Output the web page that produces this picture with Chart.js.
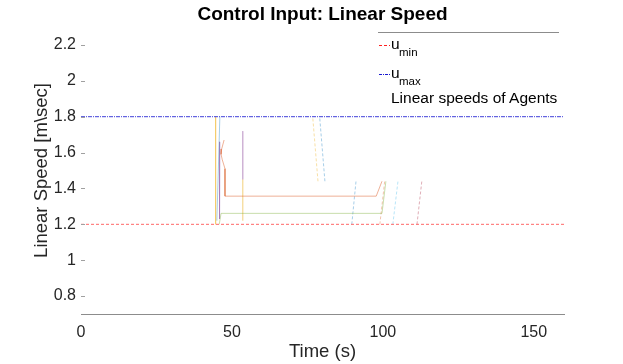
<!DOCTYPE html>
<html>
<head>
<meta charset="utf-8">
<script src="https://cdn.jsdelivr.net/npm/chart.js@4.4.1/dist/chart.umd.min.js"></script>
<style>
  body { margin: 0; background: #fff; }
  #wrap { position: relative; width: 623px; height: 364px; font-family: "Liberation Sans", Arial, sans-serif; color: #000; }
  #wrap canvas { position: absolute; left: 0; top: 0; }
  .lg { position: absolute; line-height: 1; white-space: nowrap; }
  .big { font-size: 15.5px; }
  .small { font-size: 11.5px; }
  #legendTop { position: absolute; left: 378px; top: 32px; width: 181px; height: 0; border-top: 1px solid #8c8c8c; }
</style>
</head>
<body>
<div id="wrap">
  <canvas id="chart" width="623" height="364"></canvas>
  <div id="legendTop"></div>
  <svg class="lg" style="left:379px;top:44px" width="11" height="3"><line x1="0" y1="1.5" x2="11" y2="1.5" stroke="#ff2020" stroke-width="1" stroke-dasharray="3,2"/></svg>
  <div class="lg big" style="left:391px;top:36px">u</div>
  <div class="lg small" style="left:399px;top:47px">min</div>
  <svg class="lg" style="left:379px;top:73px" width="11" height="3"><line x1="0" y1="1.5" x2="11" y2="1.5" stroke="#1a1ad0" stroke-width="1" stroke-dasharray="3,1,1,1"/></svg>
  <div class="lg big" style="left:391px;top:65px">u</div>
  <div class="lg small" style="left:399px;top:76px">max</div>
  <div class="lg big" style="left:391px;top:90px">Linear speeds of Agents</div>
</div>
<script>
// Axis ticks
const xTicks = [0, 50, 100, 150];
const yTicks = [0.8, 1, 1.2, 1.4, 1.6, 1.8, 2, 2.2];

// Speed bounds
const uMinTime = [0, 160];
const uMinValue = [1.2, 1.2];
const uMaxTime = [0, 160];
const uMaxValue = [1.8, 1.8];

// Agent speed traces (time in s, speed in m/s)
const agent1Time = [44.6, 44.6];
const agent1Speed = [1.8, 1.2];
const agent2Time = [46.0, 45.0];
const agent2Speed = [1.8, 1.22];
const agent3Time = [46.0, 45.9];
const agent3Speed = [1.66, 1.23];
const agent4Time = [47.4, 46.6, 46.4, 46.8, 47.7, 47.7, 97.8, 99.7];
const agent4Speed = [1.67, 1.62, 1.59, 1.56, 1.51, 1.357, 1.357, 1.44];
const agent5Time = [45.8, 46.4, 99.7, 101.0];
const agent5Speed = [1.2, 1.261, 1.261, 1.44];
const agent6Time = [53.6, 53.6];
const agent6Speed = [1.72, 1.45];
const agent7Time = [53.6, 53.6];
const agent7Speed = [1.45, 1.22];
const agent8Time = [76.8, 78.5];
const agent8Speed = [1.79, 1.44];
const agent9Time = [79.1, 80.8];
const agent9Speed = [1.79, 1.44];
const agent10Time = [89.7, 91.1];
const agent10Speed = [1.2, 1.44];
const agent11Time = [99.0, 100.6];
const agent11Speed = [1.2, 1.44];
const agent12Time = [103.3, 105.0];
const agent12Speed = [1.2, 1.44];
const agent13Time = [111.3, 112.9];
const agent13Speed = [1.2, 1.44];

const FONT = '"Liberation Sans", Arial, sans-serif';
const pts = (t, v) => t.map((x, i) => ({ x: x, y: v[i] }));

function agent(t, v, color, dashed) {
    return {
        data: pts(t, v),
        borderColor: color,
        borderWidth: 1,
        borderDash: dashed ? [3, 2] : [],
        pointRadius: 0,
        fill: false,
        tension: 0
    };
}

// small inward tick marks on the y axis, like the original plot
const yTickMarks = {
    id: 'yTickMarks',
    afterDraw(chart) {
        const ctx = chart.ctx;
        const y = chart.scales.y;
        const left = chart.chartArea.left;
        ctx.save();
        ctx.strokeStyle = '#a0a0a0';
        ctx.lineWidth = 1;
        yTicks.forEach(v => {
            const py = Math.round(y.getPixelForValue(v)) + 0.5;
            ctx.beginPath();
            ctx.moveTo(left, py);
            ctx.lineTo(left + 4, py);
            ctx.stroke();
        });
        ctx.restore();
    }
};

new Chart(document.getElementById('chart'), {
    type: 'line',
    data: {
        datasets: [
            { data: pts(uMinTime, uMinValue), borderColor: 'rgba(255,40,40,0.7)', borderWidth: 1, borderDash: [3, 2], pointRadius: 0 },
            { data: pts(uMaxTime, uMaxValue), borderColor: 'rgba(30,30,210,0.85)', borderWidth: 1, borderDash: [4, 1, 1, 1], pointRadius: 0 },
            agent(agent1Time, agent1Speed, 'rgba(237,177,32,0.35)', false),
            agent(agent2Time, agent2Speed, 'rgba(0,114,189,0.35)', false),
            agent(agent3Time, agent3Speed, 'rgba(126,47,142,0.3)', false),
            agent(agent4Time, agent4Speed, 'rgba(217,83,25,0.45)', false),
            agent(agent5Time, agent5Speed, 'rgba(119,172,48,0.4)', false),
            agent(agent6Time, agent6Speed, 'rgba(126,47,142,0.2)', false),
            agent(agent7Time, agent7Speed, 'rgba(237,177,32,0.22)', false),
            agent(agent8Time, agent8Speed, 'rgba(237,177,32,0.4)', true),
            agent(agent9Time, agent9Speed, 'rgba(0,114,189,0.35)', true),
            agent(agent10Time, agent10Speed, 'rgba(0,114,189,0.35)', true),
            agent(agent11Time, agent11Speed, 'rgba(217,83,25,0.35)', true),
            agent(agent12Time, agent12Speed, 'rgba(77,190,238,0.4)', true),
            agent(agent13Time, agent13Speed, 'rgba(162,20,47,0.35)', true)
        ]
    },
    options: {
        responsive: false,
        animation: false,
        layout: { padding: { left: 0, right: 59, top: 0, bottom: 0 } },
        plugins: {
            legend: { display: false },
            tooltip: { enabled: false },
            title: {
                display: true,
                text: 'Control Input: Linear Speed',
                fullSize: false,
                color: '#000',
                font: { family: FONT, size: 19, weight: 'bold' },
                padding: { top: 3, bottom: 1.2 }
            }
        },
        scales: {
            x: {
                type: 'linear',
                min: 0,
                max: 160,
                afterBuildTicks: s => { s.ticks = xTicks.map(v => ({ value: v })); },
                afterFit: s => { s.height = 50; },
                grid: { display: false, drawTicks: false },
                border: { display: true, color: '#8c8c8c' },
                ticks: { padding: 9, color: '#262626', font: { family: FONT, size: 16 } },
                title: { display: true, text: 'Time (s)', color: '#262626', font: { family: FONT, size: 18.5 }, padding: { top: 0, bottom: 1 } }
            },
            y: {
                min: 0.7,
                max: 2.3,
                afterBuildTicks: s => { s.ticks = yTicks.map(v => ({ value: v })); },
                afterFit: s => { s.width = 81; },
                grid: { display: false, drawTicks: false },
                border: { display: false },
                ticks: { padding: 5, color: '#262626', font: { family: FONT, size: 16 }, callback: v => String(v) },
                title: { display: true, text: 'Linear Speed [m\\sec]', color: '#262626', font: { family: FONT, size: 18.5 }, padding: { top: 31, bottom: 0 } }
            }
        }
    },
    plugins: [yTickMarks]
});
</script>
</body>
</html>
